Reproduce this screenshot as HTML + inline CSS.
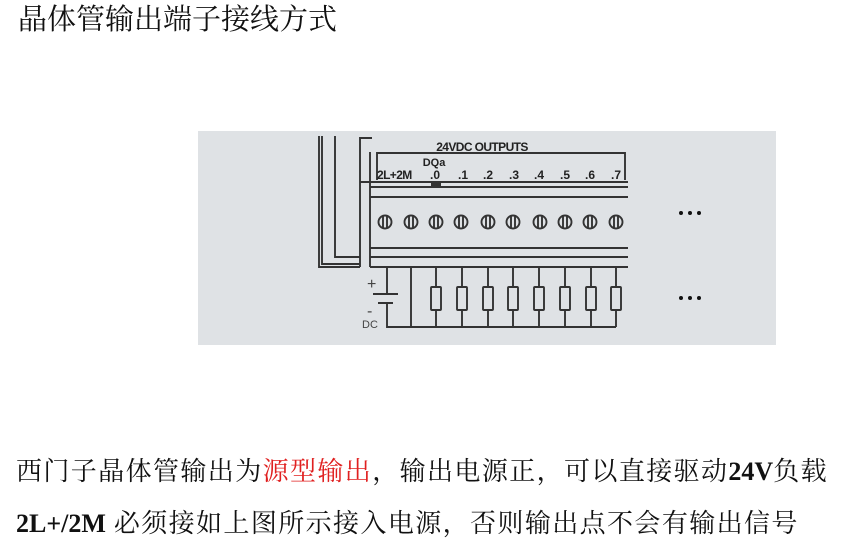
<!DOCTYPE html>
<html><head><meta charset="utf-8"><style>
html,body{margin:0;padding:0;background:#fff;width:845px;height:539px;overflow:hidden;position:relative}
.t{position:absolute;left:18px;top:-3px;font:29px "Liberation Serif","Noto Serif CJK SC",serif;color:#111;white-space:nowrap}
.l{position:absolute;left:16px;font:26px "Liberation Serif","Noto Serif CJK SC",serif;color:#111;white-space:nowrap;letter-spacing:1.4px}
.l b{font-weight:bold;letter-spacing:0}
</style></head><body>
<div class="t">晶体管输出端子接线方式</div>
<svg style="position:absolute;left:0;top:0" width="845" height="539">
<rect x="198" y="131" width="578" height="214" fill="#dfe2e5"/>
<g stroke="#333" fill="none" stroke-width="1.9">
<path d="M319 136V267H360M322 136V264H360M335 136V257H360"/>
<path d="M360 267V138H372"/>
<path d="M370 152V267"/>
<path d="M377 180V153H625V180"/>
<path d="M360 182H628M370 187H628M370 197H628M370 248H628M370 257H628M370 267H628"/>
<path d="M387 267V294M373 294H398M378 303H393M387 303V327H616"/>
<path d="M411 267V327"/>
<rect x="431" y="182" width="10" height="4" fill="#333" stroke="none"/>
</g>
<g stroke="#333" stroke-width="1.9" fill="none">
<g id="s">
<circle cx="385" cy="222" r="6.5"/><path d="M383 216V228M387 216V228"/>
</g>
<use href="#s" x="26"/><use href="#s" x="51"/><use href="#s" x="76"/><use href="#s" x="103"/><use href="#s" x="128"/><use href="#s" x="155"/><use href="#s" x="180"/><use href="#s" x="205"/><use href="#s" x="231"/>
<g id="r"><path d="M436 267V287M436 310V327"/><rect x="431" y="287" width="10" height="23" rx="1"/></g>
<use href="#r" x="26"/><use href="#r" x="52"/><use href="#r" x="77"/><use href="#r" x="103"/><use href="#r" x="129"/><use href="#r" x="155"/><use href="#r" x="180"/>
</g>
<g font-family="Liberation Sans,sans-serif" font-weight="bold" fill="#222" font-size="12">
<text x="482" y="151" text-anchor="middle" letter-spacing="-0.6">24VDC OUTPUTS</text>
<text x="434" y="166" text-anchor="middle" font-size="11">DQa</text>
<text x="377" y="179" letter-spacing="-0.6">2L+2M</text>
<text x="430" y="179">.0</text><text x="458" y="179">.1</text><text x="483" y="179">.2</text><text x="509" y="179">.3</text><text x="534" y="179">.4</text><text x="560" y="179">.5</text><text x="585" y="179">.6</text><text x="611" y="179">.7</text>
</g>
<g font-family="Liberation Sans,sans-serif" fill="#444">
<text x="367" y="289" font-size="16">+</text>
<text x="367" y="316" font-size="16">-</text>
<text x="362" y="328" font-size="11">DC</text>
</g>
<g fill="#111"><circle cx="681" cy="213" r="2"/><circle cx="690" cy="213" r="2"/><circle cx="699" cy="213" r="2"/>
<circle cx="681" cy="298" r="2"/><circle cx="690" cy="298" r="2"/><circle cx="699" cy="298" r="2"/></g>
</svg>
<div class="l" style="top:451px">西门子晶体管输出为<span style="color:#e02020">源型输出</span>，输出电源正，可以直接驱动<b>24V</b>负载</div>
<div class="l" style="top:503px"><b>2L+/2M</b> 必须接如上图所示接入电源，否则输出点不会有输出信号</div>
</body></html>
